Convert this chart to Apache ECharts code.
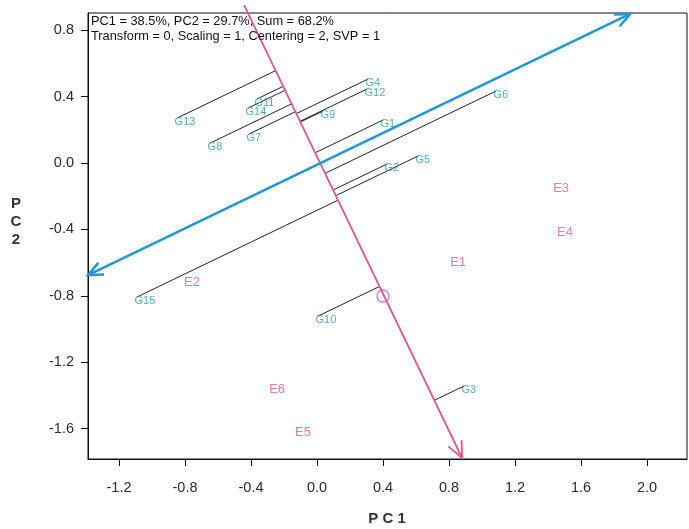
<!DOCTYPE html>
<html>
<head>
<meta charset="utf-8">
<script src="https://cdn.jsdelivr.net/npm/echarts@6/dist/echarts.min.js"></script>
<style>
html,body{margin:0;padding:0;background:#fff;}
#chart{width:689px;height:529px;}
</style>
</head>
<body>
<div id="chart"></div>
<script>
// ---- data ----
const xTicks = [-1.2, -0.8, -0.4, 0.0, 0.4, 0.8, 1.2, 1.6, 2.0];
const yTicks = [-1.6, -1.2, -0.8, -0.4, 0.0, 0.4, 0.8];

const genoNames = ['G1','G2','G3','G4','G5','G6','G7','G8','G9','G10','G11','G12','G13','G14','G15'];
const genoX = [0.400, 0.424, 0.891, 0.309, 0.612, 1.085, -0.412, -0.648, 0.036, 0.006, -0.364, 0.303, -0.848, -0.418, -1.091];
const genoY = [0.259, -0.006, -1.343, 0.506, 0.042, 0.434, 0.175, 0.120, 0.313, -0.922, 0.386, 0.446, 0.271, 0.331, -0.807];

const envNames = ['E1','E2','E3','E4','E5','E6'];
const envX = [0.855, -0.758, 1.479, 1.503, -0.085, -0.242];
const envY = [-0.596, -0.717, -0.151, -0.416, -1.620, -1.361];

const avgEnv = [0.400, -0.801];
const blueAxis = [[-1.388, -0.675], [1.897, 0.898]];
const pinkAxis = [[-0.442, 0.952], [0.879, -1.777]];

const infoLine1 = 'PC1 = 38.5%, PC2 = 29.7%, Sum = 68.2%';
const infoLine2 = 'Transform = 0, Scaling = 1, Centering = 2, SVP = 1';
const xTitle = 'P C 1';
const yTitle = 'P\nC\n2';

// ---- derived: projection of each genotype onto the pink axis, along the blue axis ----
const bx = blueAxis[1][0] - blueAxis[0][0], by = blueAxis[1][1] - blueAxis[0][1];
const px = pinkAxis[1][0] - pinkAxis[0][0], py = pinkAxis[1][1] - pinkAxis[0][1];
const det = -bx * py + px * by;
const projLines = genoNames.map((n, i) => {
  const gx = genoX[i], gy = genoY[i];
  const dx = pinkAxis[0][0] - gx, dy = pinkAxis[0][1] - gy;
  const t = (dx * (-py) + px * dy) / det;
  return { coords: [[gx, gy], [gx + t * bx, gy + t * by]] };
});

const font = 'Liberation Sans, Arial, sans-serif';
const PINK = '#e0578a';
const BLUE = '#1f97dc';

function arrowRenderer(color, width, headStart, headEnd, headLen) {
  return function (params, api) {
    const p1 = api.coord([api.value(0), api.value(1)]);
    const p2 = api.coord([api.value(2), api.value(3)]);
    const children = [{
      type: 'line',
      shape: { x1: p1[0], y1: p1[1], x2: p2[0], y2: p2[1] },
      style: { stroke: color, lineWidth: width }
    }];
    function head(tip, from) {
      const dx = tip[0] - from[0], dy = tip[1] - from[1];
      const L = Math.sqrt(dx * dx + dy * dy);
      const ux = dx / L, uy = dy / L;
      const a = 24 * Math.PI / 180;
      const c = Math.cos(a), s = Math.sin(a);
      const r1 = [ux * c - uy * s, ux * s + uy * c];
      const r2 = [ux * c + uy * s, -ux * s + uy * c];
      children.push({
        type: 'polyline',
        shape: { points: [[tip[0] - headLen * r1[0], tip[1] - headLen * r1[1]], tip, [tip[0] - headLen * r2[0], tip[1] - headLen * r2[1]]] },
        style: { stroke: color, lineWidth: width, fill: null }
      });
    }
    if (headStart) head(p1, p2);
    if (headEnd) head(p2, p1);
    return { type: 'group', children: children };
  };
}

const chart = echarts.init(document.getElementById('chart'));
chart.setOption({
  animation: false,
  backgroundColor: '#fff',
  grid: { left: 88, right: 2, top: 13, bottom: 70, show: true, borderColor: '#111', borderWidth: 1, backgroundColor: 'transparent' },
  xAxis: {
    type: 'value', min: -1.388, max: 2.242,
    axisLine: { show: true, onZero: false, lineStyle: { color: '#111', width: 1 } },
    axisTick: { show: true, customValues: xTicks, length: 7, lineStyle: { color: '#111' } },
    axisLabel: { customValues: xTicks, formatter: v => v.toFixed(1), margin: 21, color: '#2a2a2a', fontSize: 14.5, fontFamily: font },
    splitLine: { show: false }
  },
  yAxis: {
    type: 'value', min: -1.783, max: 0.904,
    axisLine: { show: true, onZero: false, lineStyle: { color: '#111', width: 1 } },
    axisTick: { show: true, customValues: yTicks, length: 7, lineStyle: { color: '#111' } },
    axisLabel: { customValues: yTicks, formatter: v => v.toFixed(1), margin: 14, color: '#2a2a2a', fontSize: 14.5, fontFamily: font },
    splitLine: { show: false }
  },
  graphic: [
    { type: 'text', left: 91, top: 15, z: 10, style: { text: infoLine1, font: '12.8px ' + font, fill: '#111' } },
    { type: 'text', left: 91, top: 30, z: 10, style: { text: infoLine2, font: '12.8px ' + font, fill: '#111' } },
    { type: 'text', x: 387, y: 519, style: { text: xTitle, font: 'bold 15px ' + font, fill: '#333', align: 'center', verticalAlign: 'middle' } },
    { type: 'text', x: 16, y: 222, style: { text: yTitle, font: 'bold 15px ' + font, fill: '#333', lineHeight: 18, align: 'center', verticalAlign: 'middle' } }
  ],
  series: [
    {
      type: 'lines', coordinateSystem: 'cartesian2d', silent: true,
      lineStyle: { color: '#222', width: 1, opacity: 1 },
      data: projLines, z: 2
    },
    {
      type: 'custom', renderItem: arrowRenderer(PINK, 1.8, false, true, 18), clip: false,
      data: [[pinkAxis[0][0], pinkAxis[0][1], pinkAxis[1][0], pinkAxis[1][1]]], z: 3, silent: true
    },
    {
      type: 'custom', renderItem: arrowRenderer(BLUE, 2.5, true, true, 16),
      data: [[blueAxis[0][0], blueAxis[0][1], blueAxis[1][0], blueAxis[1][1]]], z: 4, silent: true
    },
    {
      type: 'scatter', symbol: 'circle', symbolSize: 12, z: 5, silent: true,
      itemStyle: { color: 'rgba(0,0,0,0)', borderColor: PINK, borderWidth: 1.3 },
      data: [avgEnv]
    },
    {
      type: 'scatter', symbolSize: 1, z: 6, silent: true,
      itemStyle: { color: 'rgba(0,0,0,0)' },
      label: { show: true, position: 'right', distance: 0, offset: [-3, 4], formatter: p => p.name, color: '#2b95a0', fontSize: 11, fontFamily: font },
      data: genoNames.map((n, i) => ({ name: n, value: [genoX[i], genoY[i]] }))
    },
    {
      type: 'scatter', symbolSize: 1, z: 6, silent: true,
      itemStyle: { color: 'rgba(0,0,0,0)' },
      label: { show: true, position: 'inside', formatter: p => p.name, color: '#dd5a7e', fontSize: 13, fontFamily: font },
      data: envNames.map((n, i) => ({ name: n, value: [envX[i], envY[i]] }))
    }
  ]
});
</script>
</body>
</html>
